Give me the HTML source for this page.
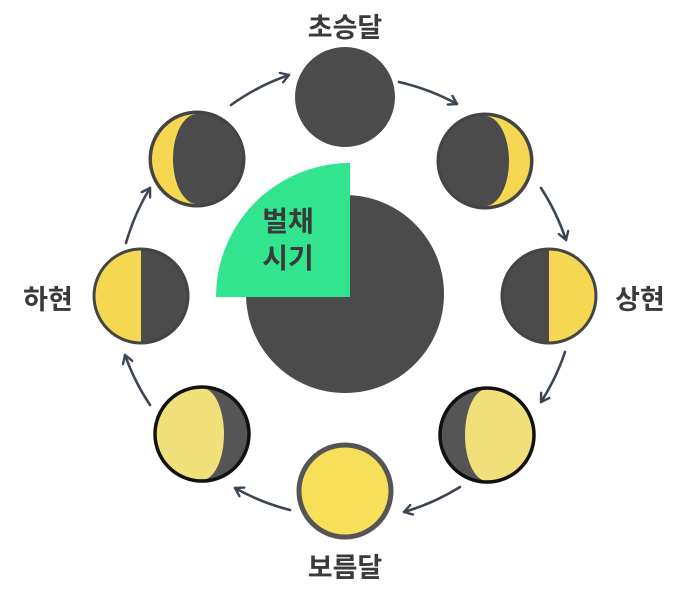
<!DOCTYPE html>
<html><head><meta charset="utf-8"><style>
html,body{margin:0;padding:0;background:#fff;}
svg{display:block;}
text{font-family:"Liberation Sans","Noto Sans CJK KR",sans-serif;font-weight:bold;fill:#3a3a3a;}
</style></head><body>
<svg width="700" height="595" viewBox="0 0 700 595" xmlns="http://www.w3.org/2000/svg">
<defs>
<marker id="ah" markerWidth="12" markerHeight="12" refX="9" refY="6" orient="auto" markerUnits="userSpaceOnUse">
<path d="M1,1 L9,6 L1,11" fill="none" stroke="#3c4652" stroke-width="2.4" stroke-linecap="round" stroke-linejoin="round"/>
</marker>
<clipPath id="c5"><circle cx="487" cy="435" r="46"/></clipPath>
<clipPath id="c6"><circle cx="202" cy="434" r="46"/></clipPath>
</defs>
<rect width="700" height="595" fill="#fff"/>

<g fill="none" stroke="#3c4652" stroke-width="2.6" stroke-linecap="round">
<path d="M231,105 A225,225 0 0 1 289,75" marker-end="url(#ah)"/>
<path d="M399,82 A225,225 0 0 1 457,104" marker-end="url(#ah)"/>
<path d="M541,188 A225,225 0 0 1 566,240" marker-end="url(#ah)"/>
<path d="M565,352 A225,225 0 0 1 541,402" marker-end="url(#ah)"/>
<path d="M460,487 A225,225 0 0 1 404,512" marker-end="url(#ah)"/>
<path d="M290,510 A225,225 0 0 1 235,488" marker-end="url(#ah)"/>
<path d="M150,405 A225,225 0 0 1 125,355" marker-end="url(#ah)"/>
<path d="M126,243 A225,225 0 0 1 150,188" marker-end="url(#ah)"/>
</g>

<circle cx="345" cy="294" r="99" fill="#4b4b4b"/>
<path d="M350,297 L216,297 A134,134 0 0 1 350,163 Z" fill="#32e48e"/>
<text x="288" y="231" font-size="28" text-anchor="middle">벌채</text>
<text x="288" y="268" font-size="28" text-anchor="middle">시기</text>

<circle cx="345" cy="97" r="50" fill="#4b4b4b"/>

<circle cx="197" cy="159" r="48" fill="#4b4b4b"/>
<path d="M197,114 A45,45 0 0 0 197,204 A24,45 0 0 1 197,114 Z" fill="#f5d752"/>
<circle cx="197" cy="159" r="47" fill="none" stroke="#444" stroke-width="3"/>

<circle cx="485" cy="161" r="48" fill="#4b4b4b"/>
<path d="M485,116 A45,45 0 0 1 485,206 A24,45 0 0 0 485,116 Z" fill="#f5d752"/>
<circle cx="485" cy="161" r="47" fill="none" stroke="#444" stroke-width="3"/>

<circle cx="549" cy="296" r="48" fill="#4b4b4b"/>
<path d="M549,250 A46,46 0 0 1 549,342 Z" fill="#f5d752"/>
<circle cx="549" cy="296" r="47" fill="none" stroke="#444" stroke-width="3"/>

<circle cx="141" cy="296" r="48" fill="#4b4b4b"/>
<path d="M141,250 A46,46 0 0 0 141,342 Z" fill="#f5d752"/>
<circle cx="141" cy="296" r="47" fill="none" stroke="#444" stroke-width="3"/>

<circle cx="487" cy="435" r="48" fill="#555"/>
<g clip-path="url(#c5)"><path d="M487,389 A46,46 0 0 1 487,481 A22,46 0 0 1 487,389 Z" fill="#f1e07a"/></g>
<circle cx="487" cy="435" r="47" fill="none" stroke="#111" stroke-width="3.5"/>

<circle cx="202" cy="434" r="48" fill="#555"/>
<g clip-path="url(#c6)"><path d="M202,388 A46,46 0 0 0 202,480 A22,46 0 0 0 202,388 Z" fill="#f1e07a"/></g>
<circle cx="202" cy="434" r="47" fill="none" stroke="#111" stroke-width="3.5"/>

<circle cx="345" cy="491" r="46" fill="#f7df5a" stroke="#555" stroke-width="5"/>

<text x="345" y="37" font-size="27" text-anchor="middle">초승달</text>
<text x="640" y="309" font-size="27" text-anchor="middle">상현</text>
<text x="48" y="309" font-size="27" text-anchor="middle">하현</text>
<text x="345" y="577" font-size="27" text-anchor="middle">보름달</text>
</svg>
</body></html>
